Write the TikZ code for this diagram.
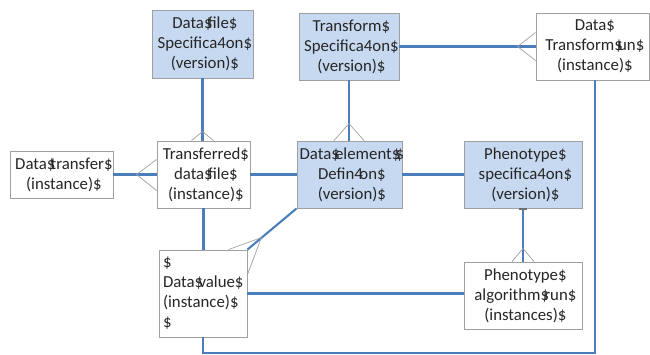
\documentclass[tikz,border=0pt]{standalone}
\usepackage{fontspec}
\setmainfont{Carlito}
\usetikzlibrary{calc}

\definecolor{specfill}{HTML}{C6D9F1}
\definecolor{linkblue}{HTML}{4A7EBB}
\definecolor{edgegray}{HTML}{A0A0A0}

% a "$" standing in for a word space: it keeps the narrow advance of a space
\newcommand{\sep}{\makebox[0.226em][l]{\$}}

\tikzset{
  ent/.style={draw=edgegray, line width=0.9pt, rectangle, inner sep=0pt,
              align=center, text=black!85,
              font=\fontsize{16.8}{20}\selectfont},
  spec/.style={ent, fill=specfill},
  inst/.style={ent, fill=white},
  link/.style={draw=linkblue, line width=2.1pt},
  crow/.style={draw=edgegray, line width=0.7pt},
}

\begin{document}
\begin{tikzpicture}[x=1pt, y=-1pt]
\useasboundingbox (0,0) rectangle (650,354);

% entities
\node[spec, minimum width=101, minimum height=68] (dfs) at (202.5,44)
  {Data\sep file\sep\\Specifica4on\sep\\(version)\sep};
\node[spec, minimum width=100, minimum height=67] (tsp) at (349,46.5)
  {Transform\sep\\Specifica4on\sep\\(version)\sep};
\node[inst, minimum width=113, minimum height=67] (dtr) at (592.5,46.5)
  {Data\sep\\Transform\sep un\sep\\(instance)\sep};
\node[inst, minimum width=103, minimum height=47] (dtf) at (61.5,174.5)
  {Data\sep transfer\sep\\(instance)\sep};
\node[inst, minimum width=93, minimum height=67] (tdf) at (203.5,174.5)
  {Transferred\sep\\data\sep file\sep\\(instance)\sep};
\node[spec, minimum width=105, minimum height=67] (ded) at (349.5,174.5)
  {Data\sep element\sep\sep\\Defin\makebox[0.3em][l]{4}on\sep\\(version)\sep};
\node[spec, minimum width=118, minimum height=67] (phs) at (523,174.5)
  {Phenotype\sep\\specifica4on\sep\\(version)\sep};
\node[inst, minimum width=88, minimum height=87, align=left,
      text width=80, inner xsep=4pt] (dv) at (203,293.5)
  {\$\\Data\sep value\sep\\(instance)\sep\\\$};
\node[inst, minimum width=118, minimum height=67] (par) at (523,295.5)
  {Phenotype\sep\\algorithm\sep run\sep\\(instances)\sep};

% connectors
\coordinate (ftdf) at (dfs.south |- tdf.north);
\draw[link] (dfs.south) -- (ftdf);
\draw[crow] ($(ftdf)+(-11,0)$) -- ($(ftdf)+(0,-9)$) -- ($(ftdf)+(11,0)$);

\coordinate (fded) at (tsp.south |- ded.north);
\draw[link] (tsp.south) -- (fded);
\draw[crow] ($(fded)+(-15,0)$) -- ($(fded)+(0,-17)$) -- ($(fded)+(15,0)$);

\coordinate (fdtr) at (dtr.west |- tsp.east);
\draw[link] (tsp.east) -- (fdtr);
\draw[crow] ($(fdtr)+(0,-14)$) -- ($(fdtr)+(-18,0)$) -- ($(fdtr)+(0,14)$);

\coordinate (ftdfw) at (tdf.west |- dtf.east);
\draw[link] (dtf.east) -- (ftdfw);
\draw[crow] ($(ftdfw)+(0,-15)$) -- ($(ftdfw)+(-20,0)$) -- ($(ftdfw)+(0,16)$);

\draw[link] (tdf.east) -- (ded.west);
\draw[link] (ded.east) -- (phs.west);
\draw[link] (tdf.south) -- (tdf.south |- dv.north);

% element definition to data value, many end at the corner
\draw[link] (ded.south west) -- (dv.north east);
\draw[crow] ($(dv.north east)+(-19,0)$) -- ($(dv.north east)+(14,-12)$)
            -- ($(dv.north east)+(0,25)$);

\coordinate (fpar) at (phs.south |- par.north);
\draw[link] (phs.south) -- (fpar);
\draw[crow] ($(fpar)+(-11,0)$) -- ($(fpar)+(0,-13)$) -- ($(fpar)+(11,0)$);
\draw[edgegray!70!black, line width=2pt] ($(phs.south)+(-4,1)$) -- ($(phs.south)+(4,1)$);

\coordinate (fparw) at (par.west |- dv.east);
\draw[link] (dv.east) -- (fparw);

% transform run down and round to the data value
\coordinate (lowbend) at (595,353);
\draw[link] (lowbend |- dtr.south) -- (lowbend) -| (dv.south);
\end{tikzpicture}
\end{document}
